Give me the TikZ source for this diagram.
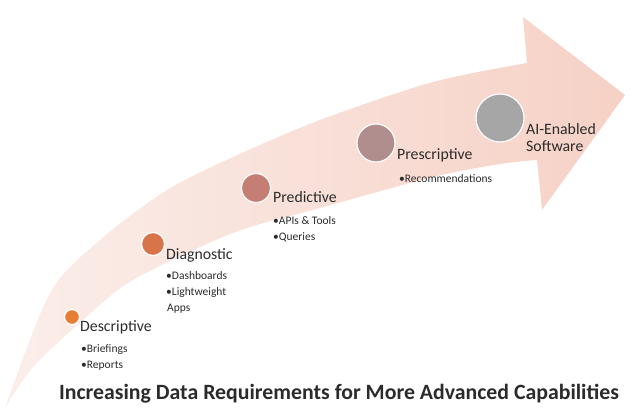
\documentclass[tikz,border=0pt]{standalone}
\usepackage{fontspec}
\setmainfont{Carlito}
\definecolor{arrowpale}{HTML}{FBEEEA}
\definecolor{arrowpink}{HTML}{F6D1C5}
\definecolor{textgray}{HTML}{2B2B2B}
\definecolor{dotA}{HTML}{E67E35}
\definecolor{dotB}{HTML}{D8744A}
\definecolor{dotC}{HTML}{C47E73}
\definecolor{dotD}{HTML}{B08E8D}
\definecolor{dotE}{HTML}{A6A6A6}

\begin{document}
\begin{tikzpicture}[x=1pt,y=-1pt,
  dot/.style={circle,draw=white,line width=1.2pt,inner sep=0pt},
  stage/.style={anchor=base west,inner sep=0pt,text=textgray,align=left,font=\fontsize{15.8}{17}\selectfont},
  items/.style={anchor=base west,inner sep=0pt,text=textgray,align=left,font=\fontsize{11.5}{16}\selectfont}]
\useasboundingbox (0,0) rectangle (640,413);
%\fill[white] (0,0) rectangle (640,413);
\shade[left color=arrowpale,right color=arrowpink] (5,408)
  -- plot[smooth] coordinates {(5,408) (50,293) (100,240) (167,190) (233,157) (320,120) (433,82) (527,63)}
  -- (523,17) -- (625,95) -- (542,210) -- (537,160)
  -- plot[smooth] coordinates {(537,160) (500,164) (433,177) (320,208) (233,233) (133,280) (83,320) (33,367) (5,408)}
  -- cycle;
\foreach \n/\x/\y/\d/\c in {desc/72/317/15/dotA, diag/153/244/23/dotB, pred/256/188/29/dotC, pres/376/143/38/dotD, ai/500/118/48/dotE}
  \node[dot,minimum size=\d,fill=\c] (\n) at (\x,\y) {};
% base of a node with several lines is the last line
\node[stage] (descL) at (80,331) {Descriptive};
\node[items] (descI) at (81,368) {•Briefings\\•Reports};
\node[stage] (diagL) at (166,259) {Diagnostic};
\node[items] (diagI) at (166,311) {•Dashboards\\•Lightweight\\\hspace{1pt}Apps};
\node[stage] (predL) at (273,202) {Predictive};
\node[items] (predI) at (273,240) {•APIs \& Tools\\•Queries};
\node[stage] (presL) at (397,159) {Prescriptive};
\node[items] (presI) at (399,182) {•Recommendations};
\node[stage] (aiL) at (526,151) {AI-Enabled\\Software};
\node[anchor=base,inner sep=0pt,text=textgray,font=\bfseries\fontsize{21.8}{24}\selectfont] (title) at (339,399)
  {Increasing Data Requirements for More Advanced Capabilities};
\end{tikzpicture}
\end{document}
